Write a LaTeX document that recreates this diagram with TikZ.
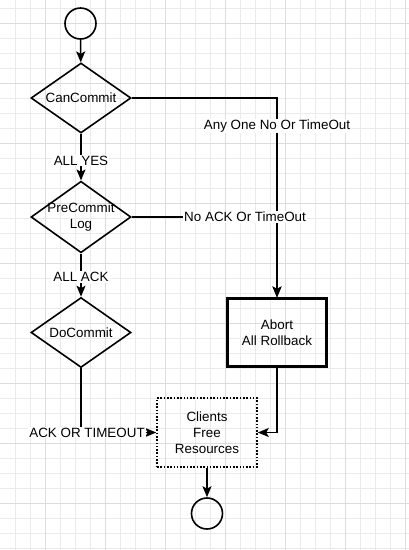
\documentclass[tikz,border=0pt]{standalone}
\usepackage{fontspec}
\setmainfont{Liberation Sans}
\usepackage{tikz}
\usetikzlibrary{arrows.meta,shapes.geometric}
\definecolor{gridminor}{RGB}{234,234,234}
\definecolor{gridmajor}{RGB}{220,220,220}

\begin{document}
\begin{tikzpicture}[x=1pt,y=1pt,
  font=\fontsize{13.4}{16}\selectfont,
  decision/.style={diamond, draw, line width=1.6pt, minimum width=100pt, minimum height=70pt, inner sep=-6pt, align=center},
  terminal/.style={circle, draw, line width=1.6pt, minimum size=31pt, inner sep=0pt},
  action/.style={rectangle, draw, line width=2.1pt, minimum width=99pt, minimum height=68pt, align=center},
  freebox/.style={rectangle, draw, line width=1.6pt, dash pattern=on 1.6pt off 1.7pt, minimum width=100pt, minimum height=69pt, align=center},
  flow/.style={line width=1.5pt, -{Stealth[length=11pt,width=9pt,inset=2.5pt]}},
  lbl/.style={fill=white, inner sep=1pt}]
\useasboundingbox[fill=white] (0,0) rectangle (409,-550);
\foreach \i in {1,...,27} \draw[gridminor, line width=0.8pt] (15*\i,0) -- (15*\i,-550);
\foreach \j in {0,...,36} \draw[gridminor, line width=0.8pt] (0,-8.3-15*\j) -- (409,-8.3-15*\j);
\foreach \i in {0,...,6} \draw[gridmajor, line width=0.8pt] (45+60*\i,0) -- (45+60*\i,-550);
\foreach \j in {0,...,8} \draw[gridmajor, line width=0.8pt] (0,-23.3-60*\j) -- (409,-23.3-60*\j);

\node[terminal] (start) at (80.5,-23.5) {};
\node[decision] (cancommit) at (81,-98) {CanCommit};
\node[decision] (precommit) at (81,-217) {PreCommit\\Log};
\node[decision] (docommit) at (81,-332.5) {DoCommit};
\node[action] (abort) at (277,-332.5) {Abort\\All Rollback};
\node[freebox] (clients) at (207,-432.5) {Clients\\Free\\Resources};
\node[terminal] (finish) at (207,-513.5) {};

\draw[flow] (start) -- (cancommit);
\draw[flow] (cancommit) -- node[lbl, pos=0.57] (allyes) {ALL YES} (precommit);
\draw[flow] (cancommit.east) -| node[lbl, pos=0.57] (anyno) {Any One No Or TimeOut} (abort.north);
\draw[flow] (precommit.east) -| node[lbl, pos=0.39] (noack) {No ACK Or TimeOut} (abort.north);
\draw[flow] (precommit) -- node[lbl, pos=0.54] (allack) {ALL ACK} (docommit);
\draw[flow] (docommit.south) |- node[lbl, pos=0.54] (acktime) {ACK OR TIMEOUT} (clients.west);
\draw[flow] (abort.south) |- (clients.east);
\draw[flow] (clients) -- (finish);
\end{tikzpicture}
\end{document}
